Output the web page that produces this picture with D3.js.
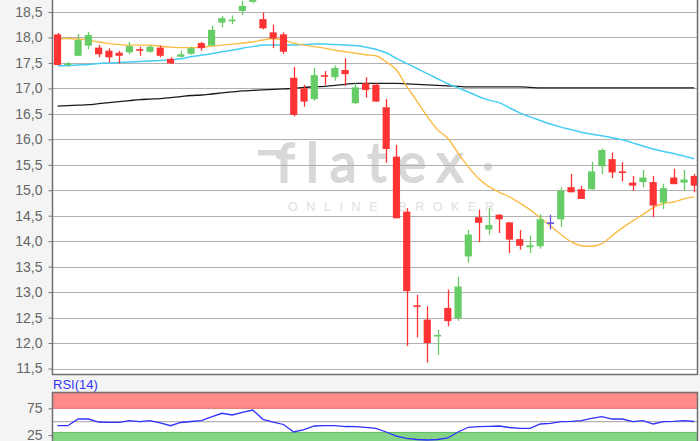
<!DOCTYPE html>
<html>
<head>
<meta charset="utf-8">
<script src="https://cdn.jsdelivr.net/npm/d3@7"></script>
<style>
  body { margin: 0; background: #f4f4f4; }
  svg { display: block; }
</style>
</head>
<body>
<svg id="chart" width="700" height="441"></svg>
<script>
// candle data (one entry per trading day)
const opens  = [18.06,17.47,17.64,17.84,17.80,17.74,17.70,17.71,17.77,17.72,
                17.80,17.58,17.62,17.68,17.89,17.84,18.29,18.33,18.52,18.70,
                18.36,18.10,18.06,17.21,17.00,16.79,17.26,17.22,17.36,16.71,
                17.10,17.07,16.63,15.66,14.58,12.74,12.46,12.13,12.69,12.49,
                13.70,14.47,14.23,14.52,14.37,14.04,13.88,13.90,14.37,14.43,
                15.06,15.02,15.02,15.47,15.61,15.37,15.15,15.16,15.16,14.76,
                15.25,15.15,15.28]
const highs  = [18.09,17.52,18.07,18.11,17.85,17.79,17.74,17.91,17.82,17.84,
                17.84,17.61,17.74,17.82,17.91,18.23,18.42,18.43,18.72,18.85,
                18.49,18.25,18.10,17.42,17.07,17.40,17.34,17.45,17.59,17.10,
                17.22,17.10,16.79,15.89,14.65,12.95,12.72,12.26,13.05,13.30,
                14.22,14.62,14.65,14.53,14.37,14.22,14.11,14.53,14.52,15.06,
                15.32,15.09,15.56,15.82,15.74,15.55,15.28,15.40,15.28,15.13,
                15.42,15.40,15.32]
const lows   = [17.46,17.42,17.64,17.77,17.61,17.51,17.49,17.67,17.64,17.70,
                17.61,17.48,17.61,17.66,17.74,17.84,18.20,18.26,18.44,18.67,
                18.16,17.79,17.68,16.45,16.64,16.76,17.07,17.15,17.05,16.69,
                16.82,16.74,15.54,14.45,11.94,12.11,11.62,11.77,12.33,12.44,
                13.58,13.98,14.13,14.16,13.77,13.83,13.77,13.85,14.23,14.28,
                14.96,14.83,15.01,15.32,15.24,15.17,14.99,15.06,14.47,14.63,
                15.12,14.99,14.96]
const closes = [17.46,17.49,17.95,18.05,17.67,17.61,17.64,17.83,17.74,17.82,
                17.64,17.49,17.67,17.79,17.79,18.15,18.38,18.35,18.62,18.80,
                18.18,17.98,17.72,16.48,16.74,17.26,17.23,17.40,17.28,17.02,
                16.97,16.74,15.81,14.45,13.02,12.71,12.00,12.16,12.43,13.11,
                14.13,14.36,14.32,14.43,14.03,13.91,13.92,14.43,14.37,14.99,
                14.96,14.83,15.37,15.79,15.35,15.35,15.09,15.25,14.70,15.04,
                15.12,15.21,15.09]

// moving averages
const maShort = [17.98,17.98,17.97,17.95,17.91,17.88,17.86,17.85,17.85,17.85,
                 17.83,17.81,17.80,17.80,17.81,17.83,17.85,17.87,17.89,17.91,
                 17.95,17.98,17.95,17.89,17.85,17.82,17.79,17.75,17.72,17.69,
                 17.66,17.64,17.52,17.36,17.04,16.75,16.45,16.19,16.02,15.73,
                 15.46,15.23,15.07,14.96,14.87,14.75,14.62,14.46,14.30,14.13,
                 13.99,13.91,13.90,13.95,14.11,14.26,14.40,14.52,14.66,14.74,
                 14.77,14.83,14.87]
const maMid   = [17.44,17.45,17.46,17.47,17.49,17.50,17.51,17.52,17.53,17.54,
                 17.55,17.56,17.58,17.62,17.65,17.68,17.72,17.75,17.79,17.82,
                 17.85,17.85,17.85,17.85,17.86,17.87,17.87,17.86,17.85,17.84,
                 17.81,17.77,17.70,17.59,17.49,17.39,17.29,17.19,17.09,17.01,
                 16.93,16.84,16.77,16.72,16.62,16.52,16.44,16.37,16.30,16.24,
                 16.19,16.14,16.10,16.07,16.03,15.99,15.93,15.87,15.81,15.76,
                 15.72,15.67,15.62]
const maLong  = [16.65,16.66,16.67,16.68,16.70,16.72,16.74,16.76,16.78,16.79,
                 16.80,16.82,16.84,16.86,16.87,16.89,16.91,16.93,16.95,16.96,
                 16.97,16.98,16.99,17.00,17.02,17.03,17.04,17.06,17.08,17.10,
                 17.10,17.10,17.10,17.10,17.09,17.08,17.07,17.06,17.05,17.04,
                 17.03,17.03,17.03,17.03,17.03,17.03,17.02,17.01,17.01,17.01,
                 17.01,17.01,17.01,17.01,17.01,17.01,17.01,17.01,17.01,17.01,
                 17.01,17.01,17.01]

// RSI(14)
const rsi = [42.5,42.5,55.0,55.0,49.4,48.9,48.9,51.9,50.0,51.9,
             47.6,42.5,48.5,50.4,51.9,58.8,65.7,62.5,67.2,71.8,
             54.5,49.4,44.8,30.8,35.4,42.0,42.5,42.5,41.0,40.7,
             39.6,37.7,30.8,23.3,18.7,16.8,15.9,16.8,19.6,30.8,
             39.6,40.7,41.4,42.0,39.2,37.7,37.7,45.7,47.0,50.0,
             50.7,51.9,56.0,59.3,55.0,55.0,50.0,51.9,45.7,50.0,
             50.7,51.9,50.4]

// tick labels
const priceTicks = [11.5,12.0,12.5,13.0,13.5,14.0,14.5,15.0,15.5,16.0,16.5,17.0,17.5,18.0,18.5]
const rsiTicks = [25, 75]

const svg = d3.select('#chart')
const plot = {left: 52.5, right: 697.5, top: -2, bottom: 374.5}
const rsiBox = {top: 392.5, bottom: 446}
const font = '"Liberation Sans", Arial, sans-serif'

// scales
var x = d3.scaleBand()
    .domain(d3.range(opens.length))
    .range([52.4, 52.4 + opens.length * 10.27])
    .paddingInner(0.3)
    .paddingOuter(0.15)
var bw = x.bandwidth()
var cx = i => x(i) + bw / 2

var y = d3.scaleLinear()
    .domain([11.5, 18.5])
    .range([368.5, 12])

var yr = d3.scaleLinear()
    .domain([25, 75])
    .range([435.1, 408.3])

// background
svg.append('rect').attr('width', 700).attr('height', 441).attr('fill', '#f4f4f4')
svg.append('rect')
  .attr('x', plot.left).attr('y', plot.top)
  .attr('width', plot.right - plot.left).attr('height', plot.bottom - plot.top)
  .attr('fill', '#fff')

svg.append('clipPath').attr('id', 'clip-main')
  .append('rect')
  .attr('x', plot.left).attr('y', plot.top)
  .attr('width', plot.right - plot.left).attr('height', plot.bottom - plot.top)

svg.append('clipPath').attr('id', 'clip-rsi')
  .append('rect')
  .attr('x', plot.left).attr('y', rsiBox.top)
  .attr('width', plot.right - plot.left).attr('height', rsiBox.bottom - rsiBox.top)

// watermark
var wm = svg.append('g').attr('fill', '#d8d8d8')
wm.append('rect').attr('x', 258).attr('y', 150).attr('width', 28).attr('height', 5.5)
wm.append('text')
  .attr('x', 276).attr('y', 182)
  .attr('font-family', 'Lato, sans-serif')
  .attr('font-size', 54)
  .attr('letter-spacing', 11)
  .attr('stroke', '#d8d8d8')
  .attr('stroke-width', 2)
  .attr('stroke-linejoin', 'round')
  .text('flatex')
wm.append('circle').attr('cx', 488).attr('cy', 167).attr('r', 4)
wm.append('text')
  .attr('x', 288).attr('y', 211)
  .attr('font-family', font)
  .attr('font-size', 12.5)
  .attr('letter-spacing', 8.6)
  .attr('fill', '#e0e0e0')
  .text('ONLINE BROKER')

// gridlines
svg.append('g')
  .selectAll('line')
  .data(priceTicks)
  .join('line')
    .attr('x1', plot.left).attr('x2', plot.right)
    .attr('y1', d => Math.round(y(d)) + 0.5).attr('y2', d => Math.round(y(d)) + 0.5)
    .attr('stroke', '#b0b0b0')
    .attr('stroke-width', 1.2)

var main = svg.append('g').attr('clip-path', 'url(#clip-main)')

// moving averages
var line = d3.line().x((d, i) => cx(i)).y(d => y(d)).curve(d3.curveMonotoneX)
main.append('path').attr('d', line(maLong)).attr('fill', 'none').attr('stroke', '#1a1a1a').attr('stroke-width', 1.3)
main.append('path').attr('d', line(maMid)).attr('fill', 'none').attr('stroke', '#45cdf3').attr('stroke-width', 1.5)
main.append('path').attr('d', line(maShort)).attr('fill', 'none').attr('stroke', '#fbbb44').attr('stroke-width', 1.4)

// candles
var idx = d3.range(opens.length)
var colorOf = i => closes[i] > opens[i] ? '#66cc66' : closes[i] < opens[i] ? '#ff3333' : '#6a50d8'

var candle = main.append('g')
  .selectAll('g')
  .data(idx)
  .join('g')

candle.append('line')
  .attr('x1', i => Math.round(cx(i)) + 0.5).attr('x2', i => Math.round(cx(i)) + 0.5)
  .attr('y1', i => y(highs[i])).attr('y2', i => y(lows[i]))
  .attr('stroke', colorOf)
  .attr('stroke-width', 1.3)

candle.append('rect')
  .attr('x', i => x(i))
  .attr('y', i => y(Math.max(opens[i], closes[i])))
  .attr('width', bw)
  .attr('height', i => Math.max(1.6, Math.abs(y(opens[i]) - y(closes[i]))))
  .attr('fill', colorOf)

// price axis
var yAxis = d3.axisLeft(y)
    .tickValues(priceTicks)
    .tickSize(4)
    .tickSizeOuter(0)
    .tickPadding(6)
    .tickFormat(d => d3.format('.1f')(d).replace('.', ','))

var ax = svg.append('g')
  .attr('transform', `translate(${plot.left},0)`)
  .call(yAxis)
ax.select('.domain').remove()
ax.selectAll('line').attr('stroke', '#777')
ax.selectAll('text').attr('fill', '#666').attr('font-size', 14).attr('font-family', font)

// frame
svg.append('path')
  .attr('d', `M${plot.left},${plot.top}V${plot.bottom}H${plot.right}V${plot.top}`)
  .attr('fill', 'none')
  .attr('stroke', '#707070')
  .attr('stroke-width', 1.5)

// RSI panel
svg.append('text')
  .attr('x', 53).attr('y', 389)
  .attr('fill', '#3535f5')
  .attr('font-size', 13)
  .attr('font-family', font)
  .text('RSI(14)')

var rp = svg.append('g').attr('clip-path', 'url(#clip-rsi)')
rp.append('rect')
  .attr('x', plot.left).attr('y', rsiBox.top)
  .attr('width', plot.right - plot.left).attr('height', rsiBox.bottom - rsiBox.top)
  .attr('fill', '#fff')
rp.append('rect')
  .attr('x', plot.left).attr('y', rsiBox.top)
  .attr('width', plot.right - plot.left).attr('height', yr(75) - rsiBox.top)
  .attr('fill', '#ff8a8a').attr('stroke', '#e36a6a').attr('stroke-width', 1)
rp.append('rect')
  .attr('x', plot.left).attr('y', yr(30))
  .attr('width', plot.right - plot.left).attr('height', rsiBox.bottom - yr(30))
  .attr('fill', '#85d585').attr('stroke', '#5dbb5d').attr('stroke-width', 1)
rp.append('line')
  .attr('x1', plot.left).attr('x2', plot.right)
  .attr('y1', yr(50)).attr('y2', yr(50))
  .attr('stroke', '#b4b4b4').attr('stroke-width', 1.2)
rp.append('path')
  .attr('d', d3.line().x((d, i) => cx(i)).y(d => yr(d))(rsi))
  .attr('fill', 'none')
  .attr('stroke', '#3030ff')
  .attr('stroke-width', 1.3)

var rAxis = d3.axisLeft(yr).tickValues(rsiTicks).tickSize(4).tickSizeOuter(0).tickPadding(6)
var rax = svg.append('g')
  .attr('transform', `translate(${plot.left},0)`)
  .call(rAxis)
rax.select('.domain').remove()
rax.selectAll('line').attr('stroke', '#777')
rax.selectAll('text').attr('fill', '#666').attr('font-size', 14).attr('font-family', font)

svg.append('path')
  .attr('d', `M${plot.left},${rsiBox.bottom}V${rsiBox.top}H${plot.right}V${rsiBox.bottom}`)
  .attr('fill', 'none')
  .attr('stroke', '#707070')
  .attr('stroke-width', 1.5)
</script>
</body>
</html>
